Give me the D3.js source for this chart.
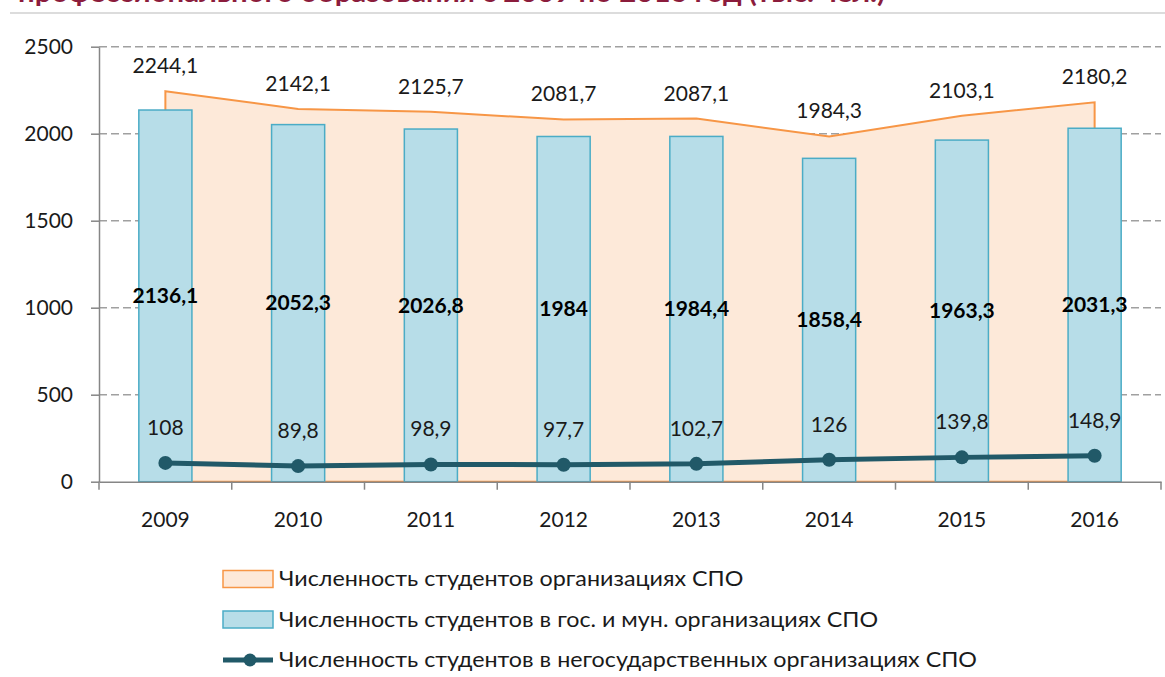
<!DOCTYPE html>
<html>
<head>
<meta charset="utf-8">
<script src="https://cdn.jsdelivr.net/npm/d3@7"></script>
<style>
  body { margin: 0; background: #fff; }
  svg text { font-family: Lato, "Open Sans", sans-serif; }
</style>
</head>
<body>
<div id="chart"></div>
<script>
// data (тыс. чел.)
const years = [2009, 2010, 2011, 2012, 2013, 2014, 2015, 2016];
const totalStudents = [2244.1, 2142.1, 2125.7, 2081.7, 2087.1, 1984.3, 2103.1, 2180.2];
const stateStudents = [2136.1, 2052.3, 2026.8, 1984, 1984.4, 1858.4, 1963.3, 2031.3];
const privateStudents = [108, 89.8, 98.9, 97.7, 102.7, 126, 139.8, 148.9];
const yTicks = [0, 500, 1000, 1500, 2000, 2500];
const seriesNames = [
  "Численность студентов организациях СПО",
  "Численность студентов в гос. и мун. организациях СПО",
  "Численность студентов в негосударственных организациях СПО"
];
const titleText = "профессионального образования с 2009 по 2016 год (тыс. чел.)";

const width = 1165;
const height = 677;

const axisColor = "#868686";
const areaFill = "#fde9d9", areaStroke = "#f79646";
const barFill = "#b7dde8", barStroke = "#4bacc6";
const lineColor = "#215968";

const fmt = v => String(v).replace(".", ",");

const svg = d3.select("#chart").append("svg")
    .attr("width", width)
    .attr("height", height);

// cut-off title at the very top
svg.append("text")
    .attr("x", 18)
    .attr("y", 2)
    .attr("textLength", 867)
    .attr("lengthAdjust", "spacingAndGlyphs")
    .style("font-size", "26px")
    .style("font-weight", "bold")
    .attr("fill", "#8b1c3c")
    .text(titleText);

svg.append("line")
    .attr("x1", 10).attr("x2", width)
    .attr("y1", 13).attr("y2", 13)
    .attr("stroke", "#dcdcdc")
    .attr("stroke-width", 2);

const x = d3.scaleBand()
    .domain(years)
    .range([99, 1161]);

const y = d3.scaleLinear()
    .domain([0, 2500])
    .range([481.7, 46.7]);

const cx = i => x(years[i]) + x.bandwidth() / 2;
const barW = x.bandwidth() * 0.4;

// dashed grid
svg.append("g")
    .selectAll("line")
    .data(yTicks.filter(d => d > 0))
    .enter().append("line")
    .attr("x1", x.range()[0]).attr("x2", x.range()[1])
    .attr("y1", d => y(d)).attr("y2", d => y(d))
    .attr("stroke", "#a0a0a0")
    .attr("stroke-width", 1.5)
    .attr("stroke-dasharray", "8,4");

// total students as area
const area = d3.area()
    .x((d, i) => cx(i))
    .y0(y(0))
    .y1(d => y(d));

svg.append("path")
    .datum(totalStudents)
    .attr("d", d => area(d) + "Z")
    .attr("fill", areaFill)
    .attr("stroke", areaStroke)
    .attr("stroke-width", 2);

// state & municipal students as bars
svg.append("g")
    .selectAll("rect")
    .data(stateStudents)
    .enter().append("rect")
    .attr("x", (d, i) => cx(i) - barW / 2)
    .attr("y", d => y(d))
    .attr("width", barW)
    .attr("height", d => y(0) - y(d))
    .attr("fill", barFill)
    .attr("stroke", barStroke)
    .attr("stroke-width", 1.5);

// axes
const yAxis = svg.append("g")
    .attr("transform", `translate(${x.range()[0]},0)`)
    .call(d3.axisLeft(y).tickValues(yTicks).tickSize(8).tickSizeOuter(0).tickPadding(18).tickFormat(d => d));
yAxis.select(".domain").attr("stroke", axisColor).attr("stroke-width", 1.5);
yAxis.selectAll(".tick line").attr("stroke", axisColor).attr("stroke-width", 1.5);
yAxis.selectAll("text").style("font-size", "21px").attr("fill", "#1a1a1a");

const xAxis = svg.append("g")
    .attr("transform", `translate(0,${y(0)})`)
    .call(d3.axisBottom(x).tickSize(0).tickPadding(30));
xAxis.select(".domain").attr("stroke", axisColor).attr("stroke-width", 1.5);
xAxis.selectAll("text").style("font-size", "21px").attr("fill", "#1a1a1a");

// Excel-style tick marks between categories
xAxis.selectAll("line.sep")
    .data(years.concat(["end"]))
    .enter().append("line")
    .attr("class", "sep")
    .attr("x1", (d, i) => x.range()[0] + i * x.step())
    .attr("x2", (d, i) => x.range()[0] + i * x.step())
    .attr("y1", 0).attr("y2", 8)
    .attr("stroke", axisColor)
    .attr("stroke-width", 1.5);

// non-state students as line with markers
const line = d3.line()
    .x((d, i) => cx(i))
    .y(d => y(d));

svg.append("path")
    .datum(privateStudents)
    .attr("d", line)
    .attr("fill", "none")
    .attr("stroke", lineColor)
    .attr("stroke-width", 5);

svg.append("g")
    .selectAll("circle")
    .data(privateStudents)
    .enter().append("circle")
    .attr("cx", (d, i) => cx(i))
    .attr("cy", d => y(d))
    .attr("r", 7)
    .attr("fill", lineColor);

// data labels
svg.append("g")
    .selectAll("text")
    .data(totalStudents)
    .enter().append("text")
    .attr("x", (d, i) => cx(i))
    .attr("y", d => y(d) - 18)
    .attr("text-anchor", "middle")
    .style("font-size", "21px")
    .attr("fill", "#1a1a1a")
    .text(fmt);

svg.append("g")
    .selectAll("text")
    .data(stateStudents)
    .enter().append("text")
    .attr("x", (d, i) => cx(i))
    .attr("y", d => y(d / 2))
    .attr("dy", "0.35em")
    .attr("text-anchor", "middle")
    .style("font-size", "21px")
    .style("font-weight", "bold")
    .attr("fill", "#000")
    .text(fmt);

svg.append("g")
    .selectAll("text")
    .data(privateStudents)
    .enter().append("text")
    .attr("x", (d, i) => cx(i))
    .attr("y", d => y(d) - 28)
    .attr("text-anchor", "middle")
    .style("font-size", "21px")
    .attr("fill", "#1a1a1a")
    .text(fmt);

// legend
const legend = svg.append("g")
    .attr("transform", "translate(223,579)");

const rowH = 40.5;
const items = legend.selectAll("g")
    .data(seriesNames)
    .enter().append("g")
    .attr("transform", (d, i) => `translate(0,${i * rowH})`);

items.filter((d, i) => i < 2).append("rect")
    .attr("x", 0).attr("y", -8.5)
    .attr("width", 50).attr("height", 17)
    .attr("fill", (d, i) => i === 0 ? areaFill : barFill)
    .attr("stroke", (d, i) => i === 0 ? areaStroke : barStroke)
    .attr("stroke-width", 1.5);

const lineItem = items.filter((d, i) => i === 2);
lineItem.append("line")
    .attr("x1", 0).attr("x2", 50)
    .attr("y1", 0).attr("y2", 0)
    .attr("stroke", lineColor)
    .attr("stroke-width", 5);
lineItem.append("circle")
    .attr("cx", 27).attr("cy", 0).attr("r", 6.5)
    .attr("fill", lineColor);

// the legend font in the picture is a bit stretched sideways
items.append("text")
    .attr("transform", "translate(56,0) scale(1.11,1)")
    .attr("dy", "0.35em")
    .style("font-size", "21px")
    .attr("fill", "#1a1a1a")
    .text(d => d);
</script>
</body>
</html>
